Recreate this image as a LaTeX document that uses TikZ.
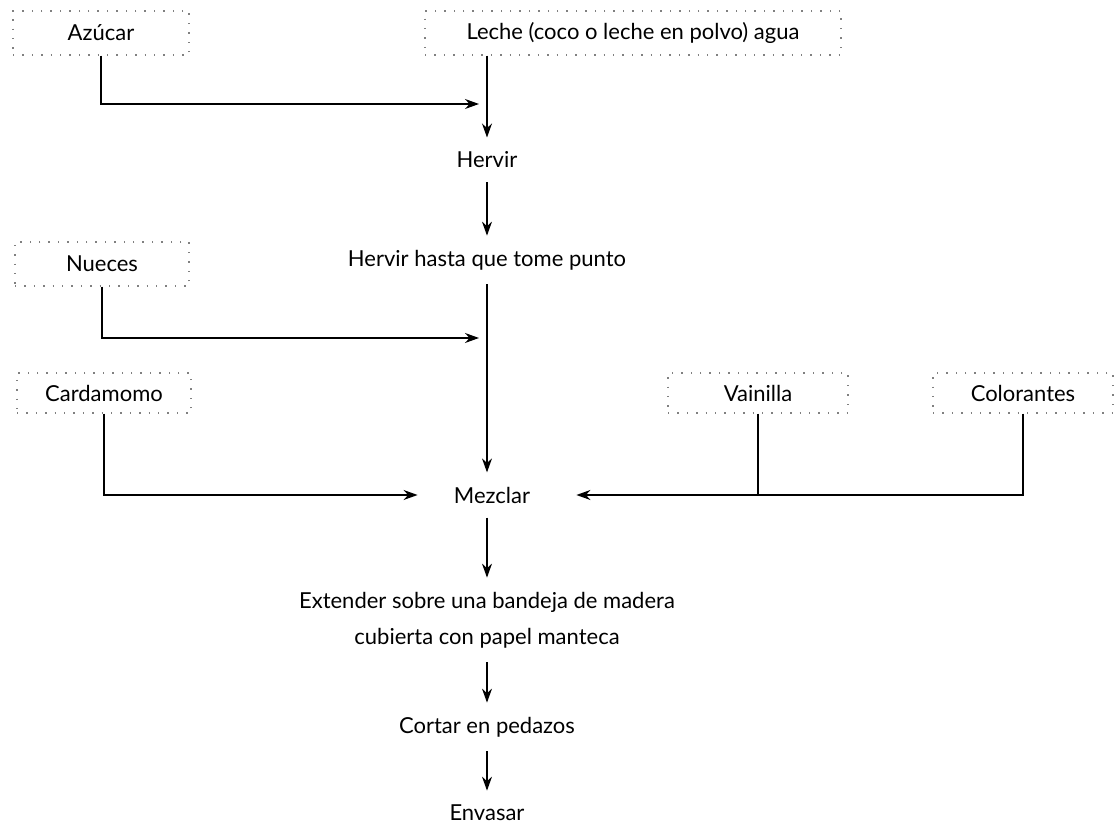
\documentclass[tikz,border=0pt]{standalone}
\usepackage{fontspec}
\setmainfont{Lato}
\usetikzlibrary{arrows.meta,positioning}
\tikzset{
  inbox/.style={draw=gray, loosely dotted, line width=0.7pt, inner sep=2pt},
  stepnode/.style={inner xsep=2pt, inner ysep=7pt, align=center},
  flow/.style={-{Stealth[length=7pt,width=5pt]}, line width=0.6pt},
  feed/.style={line width=0.6pt}
}
\begin{document}
\begin{tikzpicture}[x=0.5pt,y=-0.5pt,font=\fontsize{11}{18}\selectfont]
    \useasboundingbox (0,0) rectangle (1116,828);

    % Ingredients
    \node[inbox, minimum width=88pt, minimum height=22pt] (azucar) at (101,33) {Azúcar};
    \node[inbox, minimum width=208pt, minimum height=22pt] (leche) at (633,33) {Leche (coco o leche en polvo) agua};
    \node[inbox, minimum width=87pt, minimum height=22pt] (nueces) at (102,264) {Nueces};
    \node[inbox, minimum width=87pt, minimum height=20pt] (cardamomo) at (104,393) {Cardamomo};
    \node[inbox, minimum width=90pt, minimum height=20pt] (vainilla) at (758,393) {Vainilla};
    \node[inbox, minimum width=90pt, minimum height=20pt] (colorantes) at (1023,393) {Colorantes};

    % Steps
    \node[stepnode] (hervir) at (487,160) {Hervir};
    \node[stepnode] (punto) at (487,260) {Hervir hasta que tome punto};
    \node[stepnode, inner xsep=18pt] (mezclar) at (492,495) {Mezclar};
    \node[stepnode] (extender) at (487,620) {Extender sobre una bandeja de madera\\cubierta con papel manteca};
    \node[stepnode] (cortar) at (487,727) {Cortar en pedazos};
    \node[stepnode] (envasar) at (487,813) {Envasar};

    % Joins on the main line
    \coordinate (azin) at (479,104);
    \coordinate (nuecesin) at (479,338);

    % Main line
    \draw[flow] (hervir.north |- leche.south) -- (hervir.north);
    \draw[flow] (hervir) -- (punto);
    \draw[flow] (punto) -- (punto |- mezclar.north);
    \draw[flow] (mezclar.south -| punto) -- (extender);
    \draw[flow] (extender) -- (cortar);
    \draw[flow] (cortar) -- (envasar);

    % Side inputs
    \draw[flow] (azucar.south) |- (azin);
    \draw[flow] (nueces.south) |- (nuecesin);
    \draw[flow] (cardamomo.south) |- (mezclar.west);
    \draw[feed] (vainilla.south) -- (vainilla.south |- mezclar.east);
    \draw[flow, shorten >=5pt] (colorantes.south) |- (mezclar.east);
\end{tikzpicture}
\end{document}
